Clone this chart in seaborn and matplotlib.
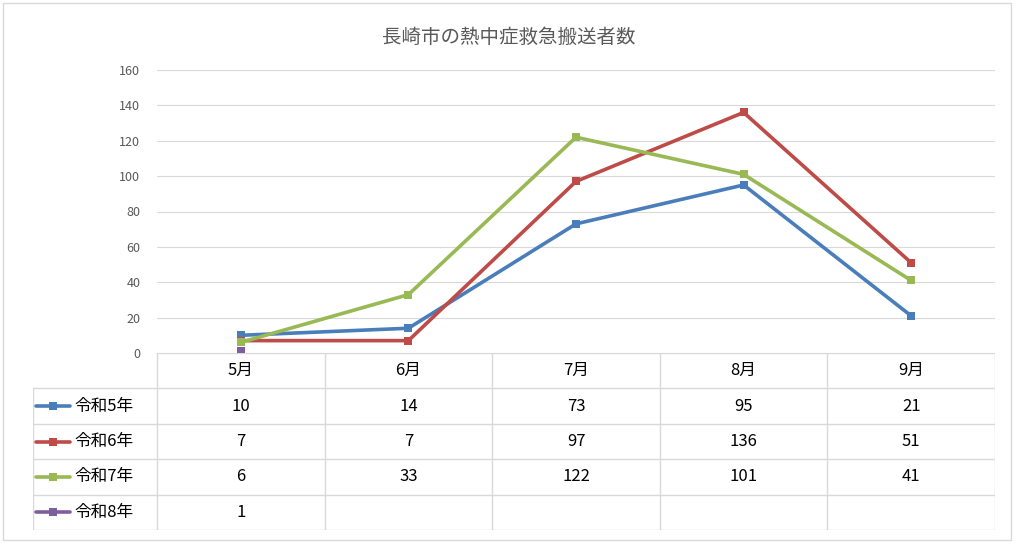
import matplotlib
matplotlib.use("Agg")
import matplotlib.pyplot as plt
import seaborn as sns
import pandas as pd
import numpy as np

months = ["5月", "6月", "7月", "8月", "9月"]
series_names = ["令和5年", "令和6年", "令和7年", "令和8年"]
r5 = [10, 14, 73, 95, 21]
r6 = [7, 7, 97, 136, 51]
r7 = [6, 33, 122, 101, 41]
r8 = [1, None, None, None, None]
colors = ["#4a7ebb", "#be4b48", "#98b954", "#7d5fa0"]
title = "長崎市の熱中症救急搬送者数"

sns.set_theme(style="white")
plt.rcParams['font.family'] = ['Noto Sans CJK JP', 'DejaVu Sans']

W, H = 1018, 545
fig = plt.figure(figsize=(W/100, H/100), dpi=100)

def fr(x0, y0, x1, y1):
    return [x0/W, 1-y1/H, (x1-x0)/W, (y1-y0)/H]

# outer border
fig.patches.append(plt.Rectangle((3/W, 5/H), 1008/W, 537/H, transform=fig.transFigure,
                                 fill=False, edgecolor="#d9d9d9", lw=1))

ax = fig.add_axes(fr(157, 70, 995, 353))
rows = []
for name, vals in zip(series_names, [r5, r6, r7, r8]):
    for i, v in enumerate(vals):
        rows.append({"series": name, "x": i, "y": np.nan if v is None else v})
df = pd.DataFrame(rows)
sns.lineplot(data=df, x="x", y="y", hue="series", palette=colors, ax=ax,
             linewidth=2.6, marker="s", markersize=6, markeredgewidth=0, legend=False)
ax.set_xlim(-0.5, 4.5)
ax.set_ylim(0, 160)
ax.set_yticks(range(0, 161, 20))
ax.set_xticks([])
ax.set_xlabel(""); ax.set_ylabel("")
ax.grid(axis="y", color="#d9d9d9", lw=0.8)
ax.set_axisbelow(True)
for s in ["top", "right", "left", "bottom"]:
    ax.spines[s].set_visible(False)
ax.tick_params(axis="y", labelsize=9, labelcolor="#595959", length=0, pad=12)
fig.text(0.5, 1-37/H, title, ha="center", va="center", fontsize=14, color="#595959")

# data table
tax = fig.add_axes(fr(33, 353, 995, 530))
left = -0.5 - 124/167.6
tax.set_xlim(left, 4.5)
tax.set_ylim(5, 0)
tax.axis("off")
lc = "#d9d9d9"
# horizontal lines
tax.plot([-0.5, 4.5], [0, 0], color=lc, lw=1)
for yy in range(1, 6):
    tax.plot([left, 4.5], [yy, yy], color=lc, lw=1)
for xx in [-0.5 + k for k in range(6)]:
    tax.plot([xx, xx], [0, 5], color=lc, lw=1)
tax.plot([left, left], [1, 5], color=lc, lw=1)
for i, m in enumerate(months):
    tax.text(i, 0.5, m, ha="center", va="center", fontsize=12, color="black")
for r, (name, vals, c) in enumerate(zip(series_names, [r5, r6, r7, r8], colors)):
    y = r + 1.5
    tax.plot([left + 0.02, left + 0.22], [y, y], color=c, lw=2.6)
    tax.plot([left + 0.12], [y], marker="s", color=c, markersize=6, markeredgewidth=0)
    tax.text(left + 0.25, y, name, ha="left", va="center", fontsize=12, color="black")
    for i, v in enumerate(vals):
        if v is not None:
            tax.text(i, y, str(v), ha="center", va="center", fontsize=12, color="black")

fig.savefig("out.png", dpi=100)
